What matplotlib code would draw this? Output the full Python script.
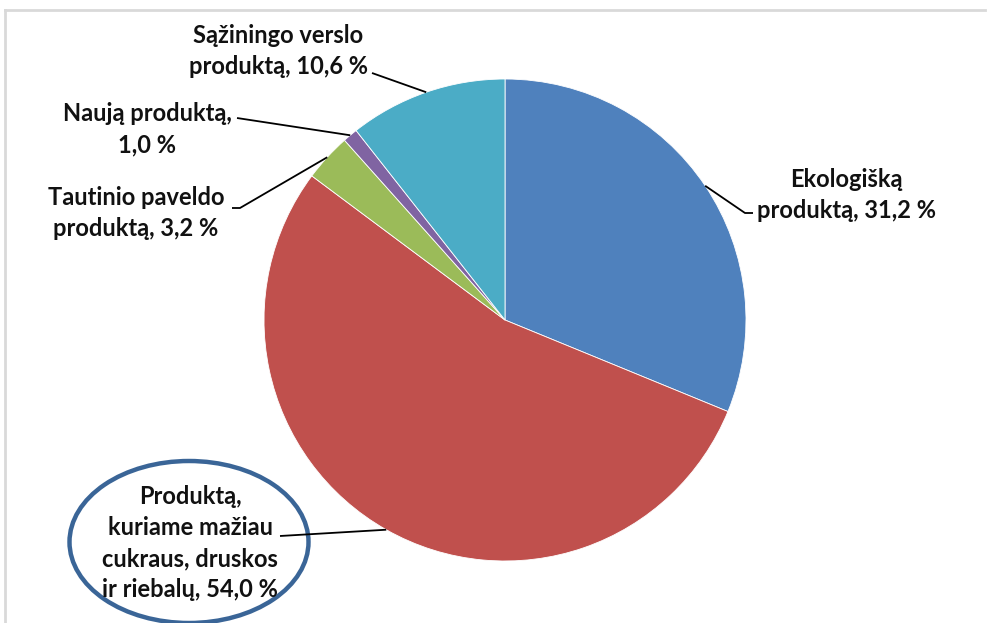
import matplotlib
matplotlib.use("Agg")
import matplotlib.pyplot as plt
from matplotlib.patches import Ellipse
from matplotlib.lines import Line2D
import numpy as np

labels = ["Ekologišką\nproduktą, 31,2 %",
          "Produktą,\nkuriame mažiau\ncukraus, druskos\nir riebalų, 54,0 %",
          "Tautinio paveldo\nproduktą, 3,2 %",
          "Naują produktą,\n1,0 %",
          "Sąžiningo verslo\nproduktą, 10,6 %"]
values = [31.2, 54.0, 3.2, 1.0, 10.6]
colors = ["#4F81BD", "#C0504D", "#9BBB59", "#8064A2", "#4BACC6"]

W, H = 988, 623
fig = plt.figure(figsize=(W/100, H/100), dpi=100)
ax = fig.add_axes([0, 0, 1, 1])

cx, cy, R = 505, H - 320, 241
wedges, _ = ax.pie(values, colors=colors, startangle=90, counterclock=False,
                   center=(cx, cy), radius=R, frame=True,
                   wedgeprops=dict(edgecolor="white", linewidth=0.6))
ax.set_xlim(0, W)
ax.set_ylim(0, H)
ax.set_aspect("auto")
ax.axis("off")

font = dict(family="Lato", fontweight="bold", fontsize=17, color="#111111",
            ha="center", va="center", linespacing=1.42)

# label text positions (pixel coords, y from top) and leader line elbows
text_pos = [(846, 195), (190, 543), (136, 213), (147, 129), (278, 51)]
elbows = [[(753, 213), (745, 213)],
          [(280, 536)],
          [(232, 208), (240, 208)],
          [(237, 118)],
          [(372, 73)]]

for w, lab, tp, el in zip(wedges, labels, text_pos, elbows):
    mid = np.deg2rad((w.theta1 + w.theta2) / 2)
    ex, ey = cx + R * np.cos(mid), cy + R * np.sin(mid)
    pts = [(x, H - y) for x, y in el] + [(ex, ey)]
    xs, ys = zip(*pts)
    ax.plot(xs, ys, color="black", lw=1.3, solid_capstyle="butt")
    ax.text(tp[0], H - tp[1], lab, **font)

ax.add_patch(Ellipse((189, H - 542), 239, 162, fill=False,
                     edgecolor="#3A6597", lw=3.2))

# outer frame lines (top and left)
fig.add_artist(Line2D([5/W, 985/W], [1 - 10/H, 1 - 10/H], color="#D9D9D9", lw=2,
                      transform=fig.transFigure))
fig.add_artist(Line2D([5/W, 5/W], [1 - 10/H, 0], color="#D9D9D9", lw=2,
                      transform=fig.transFigure))

fig.savefig("out.png", dpi=100, facecolor="white")
